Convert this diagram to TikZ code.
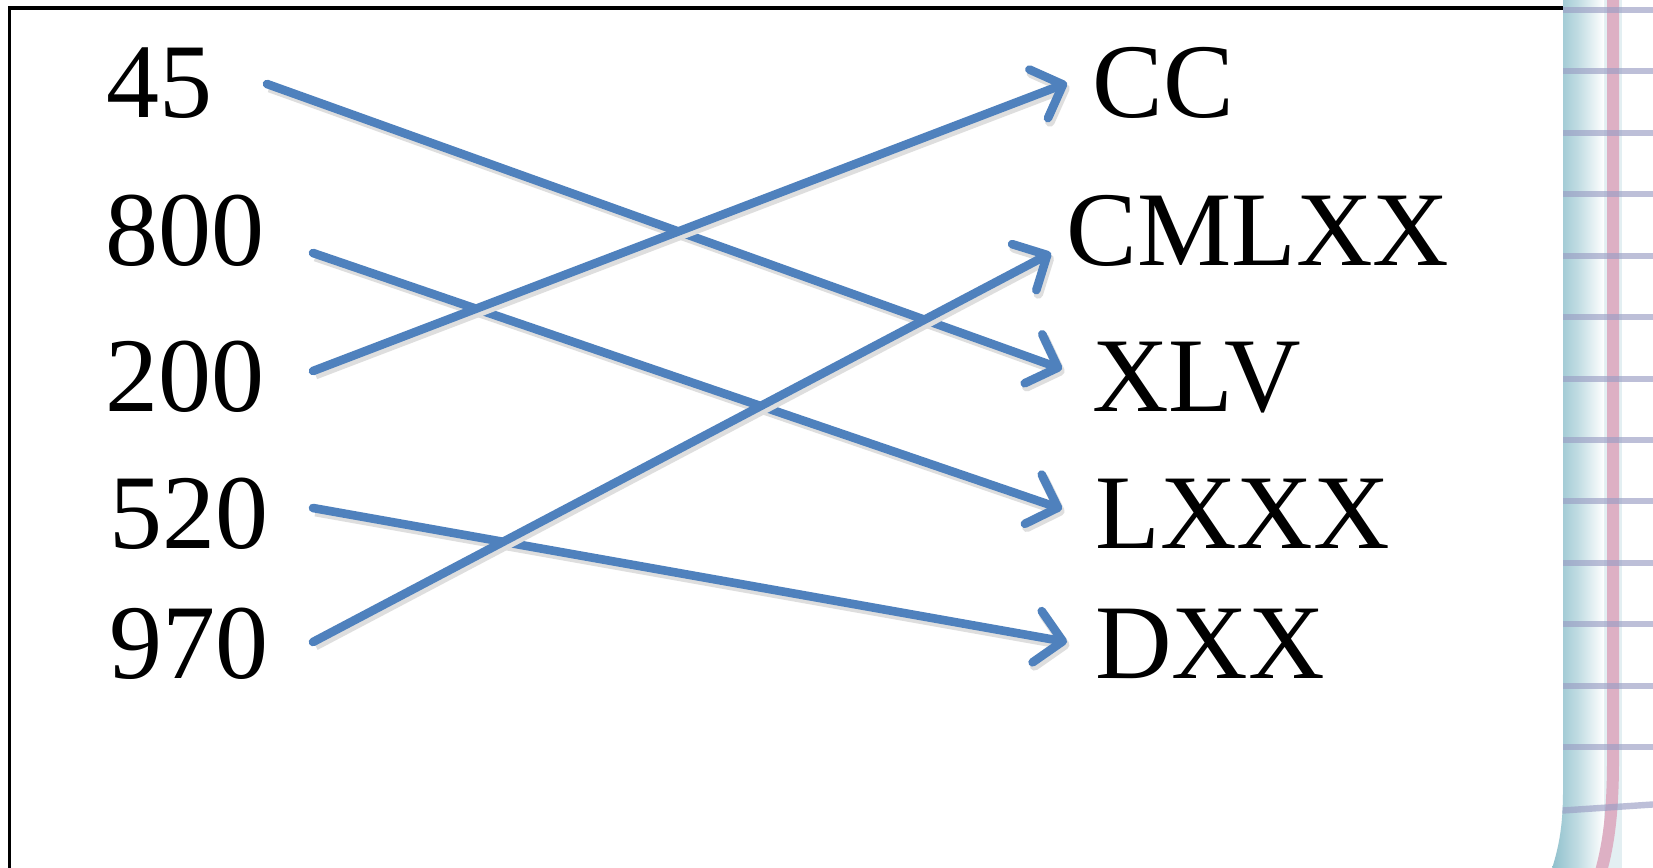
\documentclass[tikz,border=0pt]{standalone}
\usepackage{fontspec}
\setmainfont{Liberation Serif}
\usetikzlibrary{arrows.meta}
\definecolor{arrblue}{HTML}{4F81BD}
\definecolor{stripteal}{HTML}{8FC0CC}
\definecolor{strippink}{HTML}{DDB0C4}
\definecolor{stripline}{HTML}{9A9EC4}
\tikzset{
  txt/.style={anchor=base west, inner sep=0pt, font=\fontsize{53}{60}\selectfont},
  arr/.style={draw=arrblue, line width=4.3pt, line cap=round,
    -{Straight Barb[length=13pt,width=26pt,line cap=round,line join=round]},
    preaction={draw=black!13, line width=4.8pt, transform canvas={xshift=1.2pt,yshift=-1.8pt}}},
}
\begin{document}
\begin{tikzpicture}[x=0.5pt,y=-0.5pt]
\useasboundingbox (0,0) rectangle (1653,867);
\fill[white] (0,0) rectangle (1653,867);
% frame
\draw[line width=1.6pt] (9.5,900) -- (9.5,8) -- (1600,8);
% notebook strip at right
\begin{scope}
  \clip (1563,-5) -- (1563,790) .. controls (1563,830) and (1558,850) .. (1550,875) -- (1660,875) -- (1660,-5) -- cycle;
  \fill[white] (1540,-5) rectangle (1660,875);
  \fill[stripteal!25] (1600,-5) rectangle (1660,875);
  \fill[white] (1622,-5) rectangle (1660,875);
  \shade[left color=stripteal, right color=white, middle color=stripteal!55] (1552,-5) rectangle (1604,875);
  \draw[strippink, line width=6pt] (1613,-5) -- (1613,760) .. controls (1613,820) and (1607,850) .. (1600,875);
  \foreach \yy in {10,71,133,194,256,317,379,440,501,563,624,686,747} {
    \draw[stripline, line width=3.2pt, opacity=0.65] (1540,\yy) -- (1660,\yy);
  }
  \draw[stripline, line width=3.2pt, opacity=0.65] (1540,812) -- (1660,804);
\end{scope}
% numbers
\node[txt] (n45) at (106,117) {45};
\node[txt] (n800) at (105,265) {800};
\node[txt] (n200) at (105,411) {200};
\node[txt] (n520) at (109,548) {520};
\node[txt] (n970) at (109,678) {970};
% roman numerals
\node[txt] (nCC) at (1092,117) {CC};
\node[txt] (nCMLXX) at (1066,265) {CMLXX};
\node[txt] (nXLV) at (1092,411) {XLV};
\node[txt] (nLXXX) at (1095,548) {LXXX};
\node[txt] (nDXX) at (1095,678) {DXX};
% connectors
\draw[arr] ([shift={(161,-33)}]n45.base west) -- ([shift={(-30,-42)}]nXLV.base west);
\draw[arr] ([shift={(208,-12)}]n800.base west) -- ([shift={(-33,-39)}]nLXXX.base west);
\draw[arr] ([shift={(208,-40)}]n200.base west) -- ([shift={(-25,-34)}]nCC.base west);
\draw[arr] ([shift={(204,-40)}]n520.base west) -- ([shift={(-28,-36)}]nDXX.base west);
\draw[arr] ([shift={(204,-36)}]n970.base west) -- ([shift={(-15,-12)}]nCMLXX.base west);
\end{tikzpicture}
\end{document}
